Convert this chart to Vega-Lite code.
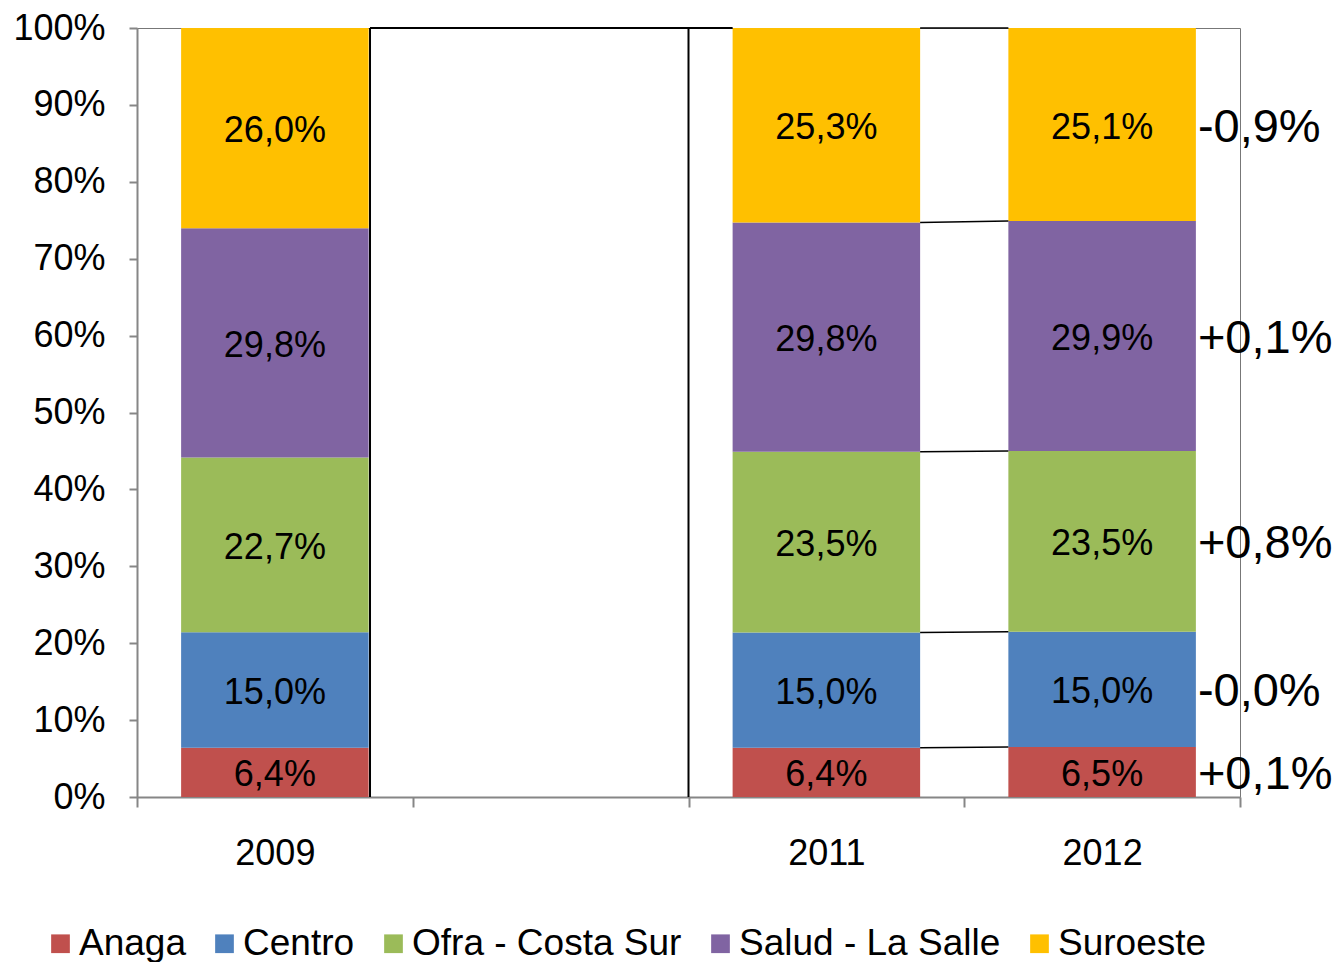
{
  "$schema": "https://vega.github.io/schema/vega-lite/v6.json",
  "width": 1103,
  "height": 769,
  "autosize": {"type": "none"},
  "padding": {"left": 137, "top": 28, "right": 104, "bottom": 165},
  "config": {
    "font": "Liberation Sans",
    "view": {"stroke": "#777777", "strokeWidth": 1},
    "locale": {"number": {"decimal": ",", "thousands": ".", "grouping": [3], "currency": ["", " €"], "minus": "-"}}
  },
  "datasets": {
    "shares": [
      {"year": "2009", "region": "Anaga", "share": 0.064},
      {"year": "2009", "region": "Centro", "share": 0.150},
      {"year": "2009", "region": "Ofra - Costa Sur", "share": 0.227},
      {"year": "2009", "region": "Salud - La Salle", "share": 0.298},
      {"year": "2009", "region": "Suroeste", "share": 0.260},
      {"year": "2011", "region": "Anaga", "share": 0.064},
      {"year": "2011", "region": "Centro", "share": 0.150},
      {"year": "2011", "region": "Ofra - Costa Sur", "share": 0.235},
      {"year": "2011", "region": "Salud - La Salle", "share": 0.298},
      {"year": "2011", "region": "Suroeste", "share": 0.253},
      {"year": "2012", "region": "Anaga", "share": 0.065, "change": 0.001},
      {"year": "2012", "region": "Centro", "share": 0.150, "change": -0.0002},
      {"year": "2012", "region": "Ofra - Costa Sur", "share": 0.235, "change": 0.008},
      {"year": "2012", "region": "Salud - La Salle", "share": 0.299, "change": 0.001},
      {"year": "2012", "region": "Suroeste", "share": 0.251, "change": -0.009}
    ],
    "links": [
      {"from": "2011", "to": "2012", "start": 0.064, "end": 0.065},
      {"from": "2011", "to": "2012", "start": 0.214, "end": 0.215},
      {"from": "2011", "to": "2012", "start": 0.449, "end": 0.450},
      {"from": "2011", "to": "2012", "start": 0.747, "end": 0.749},
      {"from": "2011", "to": "2012", "start": 1.0, "end": 1.0}
    ]
  },
  "layer": [
    {
      "data": {"name": "shares"},
      "mark": {"type": "bar", "width": {"band": 0.68}},
      "encoding": {
        "x": {
          "field": "year",
          "type": "nominal",
          "scale": {"domain": ["2009", "2010", "2011", "2012"], "paddingInner": 0, "paddingOuter": 0},
          "axis": {
            "title": null,
            "labelAngle": 0,
            "tickBand": "extent",
            "tickSize": 10,
            "labelPadding": 29,
            "labelFontSize": 36,
            "labelColor": "black",
            "domainColor": "#868686",
            "tickColor": "#868686",
            "domainWidth": 2,
            "tickWidth": 2,
            "labelExpr": "datum.value == '2010' ? '' : datum.label"
          }
        },
        "y": {
          "field": "share",
          "type": "quantitative",
          "stack": "normalize",
          "scale": {"domain": [0, 1], "nice": false},
          "axis": {
            "title": null,
            "grid": false,
            "values": [0, 0.1, 0.2, 0.3, 0.4, 0.5, 0.6, 0.7, 0.8, 0.9, 1],
            "format": ".0%",
            "tickSize": 8,
            "labelPadding": 24,
            "labelFontSize": 36,
            "labelColor": "black",
            "domainColor": "#868686",
            "tickColor": "#868686",
            "domainWidth": 2,
            "tickWidth": 2
          }
        },
        "color": {
          "field": "region",
          "type": "nominal",
          "scale": {
            "domain": ["Anaga", "Centro", "Ofra - Costa Sur", "Salud - La Salle", "Suroeste"],
            "range": ["#C0504D", "#4F81BD", "#9BBB59", "#8064A2", "#FFC000"]
          },
          "legend": {
            "title": null,
            "orient": "none",
            "legendX": -95,
            "legendY": 897,
            "padding": 0,
            "direction": "horizontal",
            "symbolType": "square",
            "symbolSize": 350,
            "symbolStrokeWidth": 0,
            "labelFontSize": 37,
            "labelColor": "black",
            "labelLimit": 400,
            "labelOffset": 0,
            "columnPadding": 20
          }
        },
        "order": {"field": "region", "type": "nominal", "sort": "ascending"}
      }
    },
    {
      "data": {"name": "links"},
      "mark": {"type": "rule", "color": "black", "strokeWidth": 1.5},
      "encoding": {
        "x": {"field": "from", "type": "nominal", "bandPosition": 0.84},
        "x2": {"field": "to", "bandPosition": 0.16},
        "y": {"field": "start", "type": "quantitative"},
        "y2": {"field": "end"}
      }
    },
    {
      "data": {"values": [{}]},
      "mark": {"type": "rule", "color": "black", "strokeWidth": 2},
      "encoding": {
        "x": {"datum": "2009", "type": "nominal", "bandPosition": 0.845},
        "y": {"datum": 0, "type": "quantitative"},
        "y2": {"datum": 1}
      }
    },
    {
      "data": {"values": [{}]},
      "mark": {"type": "rule", "color": "black", "strokeWidth": 2},
      "encoding": {
        "x": {"datum": "2011", "type": "nominal", "bandPosition": 0},
        "y": {"datum": 0, "type": "quantitative"},
        "y2": {"datum": 1}
      }
    },
    {
      "data": {"values": [{}]},
      "mark": {"type": "rule", "color": "black", "strokeWidth": 2},
      "encoding": {
        "x": {"datum": "2009", "type": "nominal", "bandPosition": 0.845},
        "x2": {"datum": "2011", "bandPosition": 0.16},
        "y": {"datum": 1, "type": "quantitative"}
      }
    },
    {
      "data": {"name": "shares"},
      "mark": {"type": "text", "fontSize": 36, "color": "black", "align": "center", "baseline": "middle", "dy": 3},
      "encoding": {
        "x": {"field": "year", "type": "nominal"},
        "y": {"field": "share", "type": "quantitative", "stack": "normalize", "bandPosition": 0.5},
        "detail": {"field": "region", "type": "nominal"},
        "order": {"field": "region", "type": "nominal", "sort": "ascending"},
        "text": {"field": "share", "type": "quantitative", "format": ".1%"}
      }
    },
    {
      "data": {"name": "shares"},
      "transform": [{"filter": "isValid(datum.change)"}],
      "mark": {"type": "text", "fontSize": 47, "color": "black", "align": "left", "baseline": "middle", "dx": 2, "dy": 3},
      "encoding": {
        "x": {"field": "year", "type": "nominal", "bandPosition": 0.84},
        "y": {"field": "share", "type": "quantitative", "stack": "normalize", "bandPosition": 0.5},
        "detail": {"field": "region", "type": "nominal"},
        "order": {"field": "region", "type": "nominal", "sort": "ascending"},
        "text": {"field": "change", "type": "quantitative", "format": "+.1%"}
      }
    }
  ]
}
